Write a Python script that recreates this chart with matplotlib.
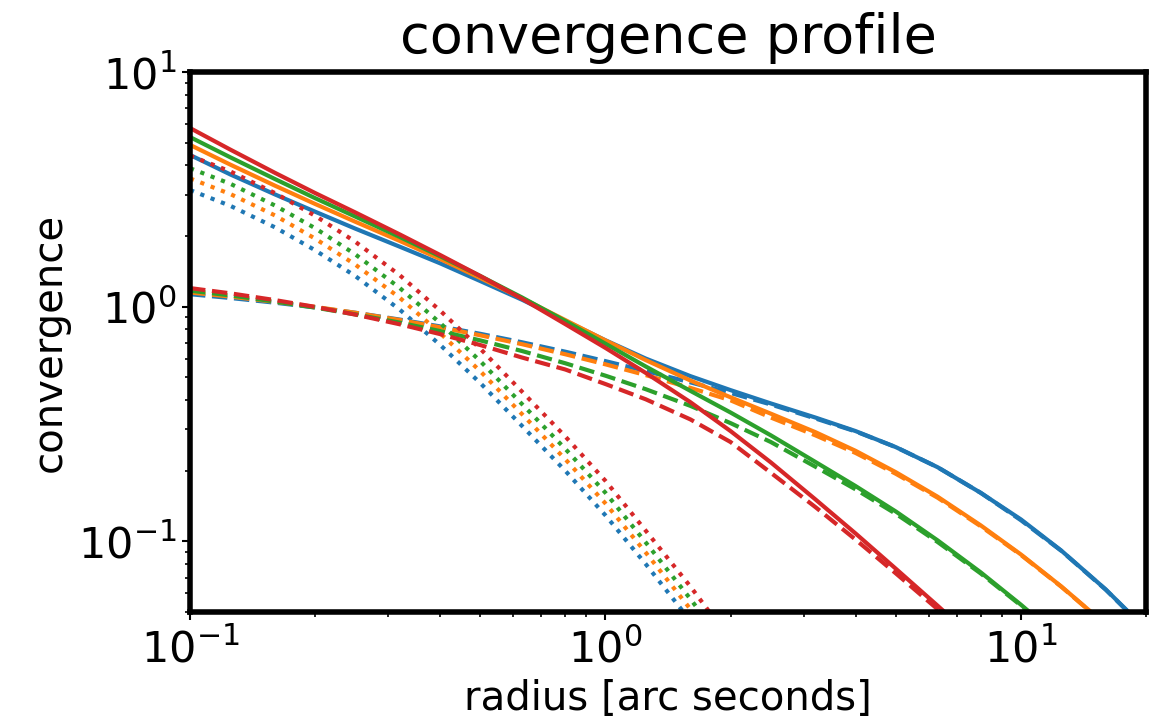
import matplotlib.pyplot as plt

radius = [0.1, 0.125, 0.16, 0.2, 0.25, 0.32, 0.4, 0.5, 0.63, 0.8, 1.0, 1.25,
          1.6, 2.0, 2.5, 3.2, 4.0, 5.0, 6.3, 8.0, 10.0, 12.5, 16.0, 20.0]

# total convergence (solid)
total_1 = [4.43, 3.66, 3.01, 2.54, 2.15, 1.80, 1.53, 1.285, 1.07, 0.871, 0.719, 0.601,
           0.506, 0.441, 0.387, 0.337, 0.295, 0.252, 0.207, 0.161, 0.124, 0.0914, 0.0624, 0.0422]
total_2 = [4.89, 4.03, 3.28, 2.74, 2.30, 1.905, 1.596, 1.324, 1.086, 0.877, 0.718, 0.592,
           0.485, 0.411, 0.350, 0.292, 0.243, 0.197, 0.155, 0.117, 0.0879, 0.0643, 0.0442, 0.0305]
total_3 = [5.28, 4.33, 3.50, 2.90, 2.42, 1.98, 1.64, 1.35, 1.094, 0.869, 0.695, 0.556,
           0.438, 0.354, 0.283, 0.218, 0.172, 0.134, 0.101, 0.0738, 0.0537, 0.0383, 0.0257, 0.0175]
total_4 = [5.77, 4.67, 3.72, 3.05, 2.52, 2.03, 1.66, 1.35, 1.08, 0.843, 0.667, 0.522,
           0.392, 0.295, 0.217, 0.151, 0.108, 0.0764, 0.0532, 0.0363, 0.0253, 0.0176, 0.0117, 0.0081]

# dark matter convergence (dashed)
dm_1 = [1.13, 1.089, 1.040, 0.993, 0.942, 0.881, 0.824, 0.766, 0.705, 0.643, 0.586, 0.532,
        0.476, 0.429, 0.383, 0.334, 0.294, 0.252, 0.207, 0.161, 0.123, 0.0912, 0.0622, 0.0421]
dm_2 = [1.15, 1.104, 1.049, 0.998, 0.942, 0.877, 0.817, 0.755, 0.692, 0.627, 0.568, 0.511,
        0.451, 0.399, 0.337, 0.283, 0.238, 0.194, 0.1535, 0.116, 0.0875, 0.0641, 0.0441, 0.0305]
dm_3 = [1.17, 1.117, 1.052, 0.991, 0.927, 0.855, 0.787, 0.718, 0.647, 0.574, 0.508, 0.445,
        0.378, 0.319, 0.265, 0.208, 0.1665, 0.131, 0.0994, 0.0730, 0.0533, 0.0381, 0.0256, 0.0174]
dm_4 = [1.20, 1.14, 1.067, 0.998, 0.925, 0.841, 0.764, 0.686, 0.607, 0.54, 0.468, 0.403,
        0.331, 0.265, 0.196, 0.140, 0.1017, 0.073, 0.0514, 0.0354, 0.0248, 0.0173, 0.0116, 0.0080]

# light / baryonic convergence (dotted)
light_1 = [3.14, 2.69, 2.18, 1.74, 1.35, 0.970, 0.687, 0.472, 0.310, 0.200, 0.129, 0.0800,
           0.0459, 0.0271, 0.0156, 0.00796, 0.00447, 0.00245, 0.00132, 0.00068, 0.00035, 0.00019, 0.000089, 0.000045]
light_2 = [3.52, 3.02, 2.45, 1.95, 1.51, 1.09, 0.771, 0.530, 0.348, 0.224, 0.145, 0.0896,
           0.0515, 0.0303, 0.0175, 0.00893, 0.00502, 0.00275, 0.00148, 0.00076, 0.00039, 0.00021, 0.0001, 0.00005]
light_3 = [3.89, 3.34, 2.70, 2.16, 1.67, 1.20, 0.852, 0.585, 0.384, 0.248, 0.161, 0.0989,
           0.0569, 0.0336, 0.0194, 0.00987, 0.00554, 0.00304, 0.00164, 0.00084, 0.00043, 0.00024, 0.00011, 0.000056]
light_4 = [4.40, 3.77, 3.05, 2.44, 1.89, 1.36, 0.962, 0.661, 0.434, 0.280, 0.181, 0.111,
           0.0643, 0.0379, 0.0219, 0.0111, 0.00626, 0.00343, 0.00185, 0.00095, 0.00049, 0.00027, 0.00012, 0.000063]

colors = ['tab:blue', 'tab:orange', 'tab:green', 'tab:red']
totals = [total_1, total_2, total_3, total_4]
dms = [dm_1, dm_2, dm_3, dm_4]
lights = [light_1, light_2, light_3, light_4]

fig = plt.figure(figsize=(11.49, 7.2), dpi=100)
ax = fig.add_axes([0.1654, 0.15, 0.832, 0.75])

for c, tot, dm, lum in zip(colors, totals, dms, lights):
    ax.plot(radius, tot, '-', color=c, lw=3)
    ax.plot(radius, dm, '--', color=c, lw=3)
    ax.plot(radius, lum, ':', color=c, lw=3)

ax.set_xscale('log')
ax.set_yscale('log')
ax.set_xlim(0.1, 20)
ax.set_ylim(0.05, 10)

ax.set_title('convergence profile', fontsize=39, pad=14)
ax.set_xlabel('radius [arc seconds]', fontsize=29, labelpad=6)
ax.set_ylabel('convergence', fontsize=29, labelpad=6)

ax.tick_params(which='major', labelsize=31, length=6, width=1.5)
ax.tick_params(axis='x', which='major', pad=6)
ax.tick_params(which='minor', length=3.5, width=1.2)
for s in ax.spines.values():
    s.set_linewidth(4)

fig.savefig('out.png', dpi=100)
